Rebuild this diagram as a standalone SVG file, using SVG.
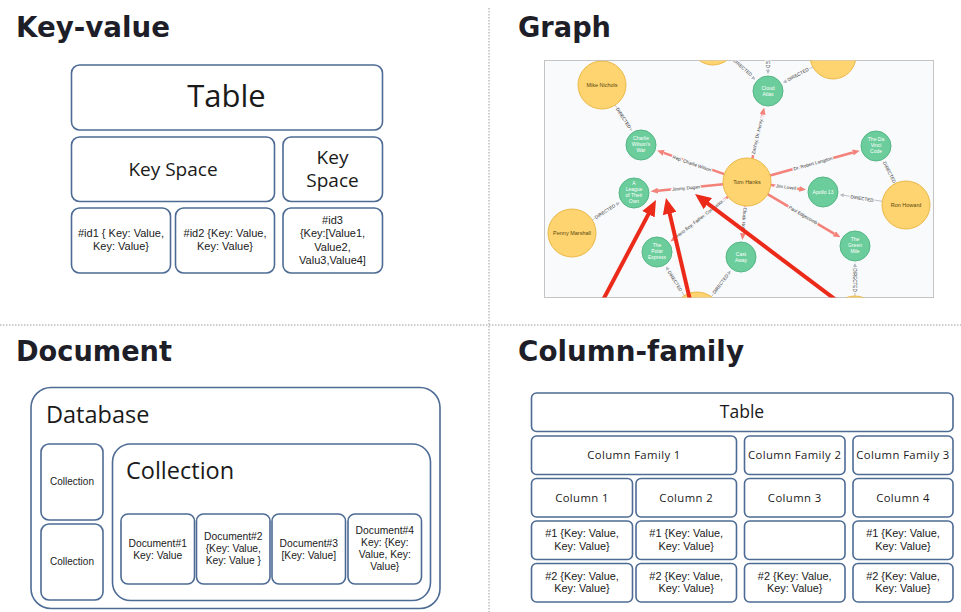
<svg xmlns="http://www.w3.org/2000/svg" width="961" height="612" viewBox="0 0 961 612">
<style>
.h{font-family:"DejaVu Sans",sans-serif;font-weight:bold;font-size:29px;fill:#1e1e28}
.sep{stroke:#9a9a9a;stroke-width:1;stroke-dasharray:1.5 1.5;fill:none}
.box{fill:#fff;stroke:#4d6b94;stroke-width:1.6}
.t{font-family:"Open Sans","Liberation Sans",sans-serif;fill:#1a1a1a;text-anchor:middle}
.s{font-family:"Liberation Sans",Arial,sans-serif;fill:#1a1a1a;text-anchor:middle}
.tl{font-family:"Open Sans","Liberation Sans",sans-serif;fill:#1a1a1a}
.gy{fill:#fdd46f;stroke:#eab84a;stroke-width:1}
.gg{fill:#6bcd9b;stroke:#55b685;stroke-width:1}
.ny{font-family:"Liberation Sans",sans-serif;font-size:5.5px;fill:#5a4710;text-anchor:middle}
.ng{font-family:"Liberation Sans",sans-serif;font-size:5px;fill:#fff;text-anchor:middle}
.es{stroke:#f3827a;stroke-width:2.5;fill:none}
.ed{stroke:#b4b8c0;stroke-width:0.9;fill:none}
.el{font-family:"Liberation Sans",sans-serif;font-size:4.6px;fill:#333;text-anchor:middle;stroke:#f9fafc;stroke-width:2.5;paint-order:stroke}
.er{stroke:#ec2a1a;stroke-width:4;fill:none}
</style>
<defs>
<marker id="ms" markerUnits="userSpaceOnUse" markerWidth="7" markerHeight="6" viewBox="0 0 7 6" refX="0" refY="3" orient="auto"><path d="M0,0 L7,3 L0,6 z" fill="#f3827a"/></marker>
<marker id="md" markerUnits="userSpaceOnUse" markerWidth="4" markerHeight="4" viewBox="0 0 4 4" refX="0" refY="2" orient="auto"><path d="M0,0 L4,2 L0,4 z" fill="#b4b8c0"/></marker>
<marker id="mr" markerUnits="userSpaceOnUse" markerWidth="16" markerHeight="14" viewBox="0 0 16 14" refX="2" refY="7" orient="auto"><path d="M0,0 L16,7 L0,14 z" fill="#ec2a1a"/></marker>
<clipPath id="gclip"><rect x="544.5" y="60.5" width="389" height="237"/></clipPath>
</defs>
<rect width="961" height="612" fill="#fff"/>

<!-- separators -->
<line class="sep" x1="489" y1="8" x2="489" y2="612"/>
<line class="sep" x1="0" y1="325" x2="961" y2="325"/>

<!-- headings -->
<text class="h" x="16" y="37" textLength="154" lengthAdjust="spacingAndGlyphs">Key-value</text>
<text class="h" x="518" y="37" textLength="93" lengthAdjust="spacingAndGlyphs">Graph</text>
<text class="h" x="16" y="361" textLength="156" lengthAdjust="spacingAndGlyphs">Document</text>
<text class="h" x="518" y="361" textLength="226" lengthAdjust="spacingAndGlyphs">Column-family</text>

<!-- Key-value -->
<g id="kv-table"><rect class="box" x="71.5" y="65" width="311" height="65" rx="8"/><text class="t" x="226.5" y="107" font-size="31">Table</text></g>
<g id="kv-keyspace1"><rect class="box" x="71.5" y="137" width="203" height="64.5" rx="8"/><text class="t" x="173" y="175.5" font-size="19">Key Space</text></g>
<g id="kv-keyspace2"><rect class="box" x="283" y="137" width="99.5" height="64.5" rx="8"/><text class="t" x="332.5" y="163.5" font-size="19">Key</text><text class="t" x="332.5" y="187" font-size="19">Space</text></g>
<g id="kv-id1"><rect class="box" x="71.5" y="208" width="99" height="65" rx="8"/><text class="s" x="121" y="237" font-size="11">#id1 { Key: Value,</text><text class="s" x="121" y="250.3" font-size="11">Key: Value}</text></g>
<g id="kv-id2"><rect class="box" x="175.5" y="208" width="99" height="65" rx="8"/><text class="s" x="225" y="237" font-size="11">#id2 {Key: Value,</text><text class="s" x="225" y="250.3" font-size="11">Key: Value}</text></g>
<g id="kv-id3"><rect class="box" x="283" y="208" width="99.5" height="65" rx="8"/><text class="s" x="332.5" y="224" font-size="11">#id3</text><text class="s" x="332.5" y="237.3" font-size="11">{Key:[Value1,</text><text class="s" x="332.5" y="250.6" font-size="11">Value2,</text><text class="s" x="332.5" y="263.9" font-size="11">Valu3,Value4]</text></g>

<!-- Graph -->
<rect x="544.5" y="60.5" width="389" height="237" fill="#f9fafc" stroke="#c4c4c4" stroke-width="1"/>
<g clip-path="url(#gclip)">
<g id="graph-edges">
<line class="ed" x1="615.1" y1="105.1" x2="629.6" y2="127.4" marker-end="url(#md)"/>
<line class="ed" x1="592.2" y1="220" x2="616.4" y2="204.4" marker-end="url(#md)"/>
<line class="ed" x1="882.3" y1="201.3" x2="843.7" y2="195.3" marker-end="url(#md)"/>
<line class="ed" x1="895.1" y1="183.6" x2="885.5" y2="164.7" marker-end="url(#md)"/>
<line class="ed" x1="684.3" y1="295.6" x2="668.1" y2="269.8" marker-end="url(#md)"/>
<line class="ed" x1="711.4" y1="296.8" x2="728.4" y2="273.8" marker-end="url(#md)"/>
<line class="ed" x1="855" y1="296" x2="855" y2="267" marker-end="url(#md)"/>
<line class="ed" x1="730.2" y1="57.3" x2="752.3" y2="77" marker-end="url(#md)"/>
<line class="ed" x1="768" y1="40" x2="768" y2="70" marker-end="url(#md)"/>
<line class="ed" x1="812.7" y1="66.9" x2="786.5" y2="81" marker-end="url(#md)"/>
<text class="el" transform="translate(623.4,118) rotate(57)" dy="1.6">DIRECTED</text>
<text class="el" transform="translate(605,211.5) rotate(-32.8)" dy="1.6">DIRECTED</text>
<text class="el" transform="translate(862,198.5) rotate(8.9)" dy="1.6">DIRECTED</text>
<text class="el" transform="translate(889.4,172.3) rotate(63)" dy="1.6">DIRECTED</text>
<text class="el" transform="translate(675,281) rotate(58)" dy="1.6">DIRECTED</text>
<text class="el" transform="translate(720.5,284) rotate(-53.3)" dy="1.6">DIRECTED</text>
<text class="el" transform="translate(855,280) rotate(90)" dy="1.6">DIRECTED</text>
<text class="el" transform="translate(742.7,67.5) rotate(41.7)" dy="1.6">DIRECTED</text>
<text class="el" transform="translate(768,56) rotate(90)" dy="1.6">DIRECTED</text>
<text class="el" transform="translate(798,74.5) rotate(-28.3)" dy="1.6">DIRECTED</text>

<line class="es" x1="724.3" y1="174.1" x2="663.7" y2="152.9" marker-end="url(#ms)"/>
<line class="es" x1="752.4" y1="158.6" x2="762.6" y2="114.4" marker-end="url(#ms)"/>
<line class="es" x1="770.1" y1="175.5" x2="852.9" y2="152.5" marker-end="url(#ms)"/>
<line class="es" x1="723.1" y1="184.3" x2="657.9" y2="190.7" marker-end="url(#ms)"/>
<line class="es" x1="770.8" y1="185.1" x2="799.2" y2="188.9" marker-end="url(#ms)"/>
<line class="es" x1="767.6" y1="194.2" x2="834.4" y2="233.8" marker-end="url(#ms)"/>
<line class="es" x1="728.1" y1="196.7" x2="675.9" y2="237.3" marker-end="url(#ms)"/>
<line class="es" x1="745.1" y1="205.9" x2="742.9" y2="233.1" marker-end="url(#ms)"/>
<text class="el" transform="translate(692,163.5) rotate(19.2)" dy="1.6">Rep. Charlie Wilson</text>
<text class="el" transform="translate(757.5,135) rotate(-76.9)" dy="1.6">Zachry, Dr. Henry...</text>
<text class="el" transform="translate(813,163.5) rotate(-15.6)" dy="1.6">Dr. Robert Langdon</text>
<text class="el" transform="translate(686,188) rotate(-5.6)" dy="1.6">Jimmy Dugan</text>
<text class="el" transform="translate(786,187) rotate(7.5)" dy="1.6">Jim Lovell</text>
<text class="el" transform="translate(803,215) rotate(30.6)" dy="1.6">Paul Edgecomb</text>
<text class="el" transform="translate(701,217.5) rotate(-37.9)" dy="1.6">Hero Boy, Father, Conductor...</text>
<text class="el" transform="translate(744,220) rotate(94.6)" dy="1.6">Chuck Nol...</text>
</g>

<g id="n-top1"><circle class="gy" cx="713" cy="42" r="23"/></g>
<g id="n-top2"><circle class="gy" cx="833" cy="56" r="23"/></g>
<g id="n-bottom1"><circle class="gy" cx="697" cy="316" r="24"/></g>
<g id="n-bottom2"><circle class="gy" cx="855" cy="320" r="24"/></g>
<g id="n-mike"><circle class="gy" cx="602" cy="85" r="24"/><text class="ny" x="602" y="87">Mike Nichols</text></g>
<g id="n-tom"><circle class="gy" cx="747" cy="182" r="24"/><text class="ny" x="747" y="184">Tom Hanks</text></g>
<g id="n-penny"><circle class="gy" cx="572" cy="233" r="24"/><text class="ny" x="572" y="235">Penny Marshall</text></g>
<g id="n-ron"><circle class="gy" cx="906" cy="205" r="24"/><text class="ny" x="906" y="207">Ron Howard</text></g>
<g id="n-charlie"><circle class="gg" cx="641" cy="145" r="15"/><text class="ng" x="641" y="139.5">Charlie</text><text class="ng" x="641" y="145.5">Wilson's</text><text class="ng" x="641" y="151.5">War</text></g>
<g id="n-cloud"><circle class="gg" cx="768" cy="91" r="15"/><text class="ng" x="768" y="90">Cloud</text><text class="ng" x="768" y="96">Atlas</text></g>
<g id="n-davinci"><circle class="gg" cx="876" cy="146" r="15"/><text class="ng" x="876" y="140.5">The Da</text><text class="ng" x="876" y="146.5">Vinci</text><text class="ng" x="876" y="152.5">Code</text></g>
<g id="n-league"><circle class="gg" cx="634" cy="193" r="15"/><text class="ng" x="634" y="184.5">A</text><text class="ng" x="634" y="190.5">League</text><text class="ng" x="634" y="196.5">of Their</text><text class="ng" x="634" y="202.5">Own</text></g>
<g id="n-apollo"><circle class="gg" cx="823" cy="192" r="15"/><text class="ng" x="823" y="194">Apollo 13</text></g>
<g id="n-green"><circle class="gg" cx="855" cy="246" r="15"/><text class="ng" x="855" y="240.5">The</text><text class="ng" x="855" y="246.5">Green</text><text class="ng" x="855" y="252.5">Mile</text></g>
<g id="n-polar"><circle class="gg" cx="657" cy="252" r="15"/><text class="ng" x="657" y="246.5">The</text><text class="ng" x="657" y="252.5">Polar</text><text class="ng" x="657" y="258.5">Express</text></g>
<g id="n-cast"><circle class="gg" cx="741" cy="257" r="15"/><text class="ng" x="741" y="256">Cast</text><text class="ng" x="741" y="262">Away</text></g>

<g id="red-arrows">
<line class="er" x1="603" y1="300" x2="649.4" y2="212.4" marker-end="url(#mr)"/>
<line class="er" x1="690" y1="300" x2="669.2" y2="211.6" marker-end="url(#mr)"/>
<line class="er" x1="836" y1="300" x2="706.2" y2="202.4" marker-end="url(#mr)"/>
</g>
</g>

<!-- Document -->
<g id="doc-database"><rect class="box" x="31" y="387.5" width="409" height="221" rx="20"/><text class="tl" x="46" y="423" font-size="23.5">Database</text></g>
<g id="doc-coll-a"><rect class="box" x="41" y="444" width="62" height="76" rx="8"/><text class="s" x="72" y="485" font-size="10">Collection</text></g>
<g id="doc-coll-b"><rect class="box" x="41" y="524" width="62" height="76" rx="8"/><text class="s" x="72" y="565" font-size="10">Collection</text></g>
<g id="doc-coll-main"><rect class="box" x="112.5" y="444" width="318" height="156.5" rx="18"/><text class="tl" x="126" y="478.5" font-size="23.5">Collection</text></g>
<g id="doc-1"><rect class="box" x="121" y="514" width="73.5" height="70" rx="7"/><text class="s" x="157.7" y="546.5" font-size="10.3">Document#1</text><text class="s" x="157.7" y="558.5" font-size="10.3">Key: Value</text></g>
<g id="doc-2"><rect class="box" x="196.5" y="514" width="73.5" height="70" rx="7"/><text class="s" x="233.3" y="540" font-size="10.3">Document#2</text><text class="s" x="233.3" y="552" font-size="10.3">{Key: Value,</text><text class="s" x="233.3" y="564" font-size="10.3">Key: Value }</text></g>
<g id="doc-3"><rect class="box" x="272" y="514" width="73.5" height="70" rx="7"/><text class="s" x="308.8" y="546.5" font-size="10.3">Document#3</text><text class="s" x="308.8" y="558.5" font-size="10.3">[Key: Value]</text></g>
<g id="doc-4"><rect class="box" x="348" y="514" width="73.5" height="70" rx="7"/><text class="s" x="384.8" y="534" font-size="10.3">Document#4</text><text class="s" x="384.8" y="546" font-size="10.3">Key: {Key:</text><text class="s" x="384.8" y="558" font-size="10.3">Value, Key:</text><text class="s" x="384.8" y="570" font-size="10.3">Value}</text></g>

<!-- Column-family -->
<g id="cf-table"><rect class="box" x="531.5" y="393" width="421.5" height="38.5" rx="5"/><text class="t" x="742" y="417.5" font-size="17.5">Table</text></g>
<g id="cf-fam1"><rect class="box" x="531.5" y="436" width="205" height="38.5" rx="5"/><text class="t" x="634" y="459" font-size="11.3" letter-spacing="0.4">Column Family 1</text></g>
<g id="cf-fam2"><rect class="box" x="744.5" y="436" width="100.5" height="38.5" rx="5"/><text class="t" x="794.7" y="459" font-size="11.3" letter-spacing="0.4">Column Family 2</text></g>
<g id="cf-fam3"><rect class="box" x="853" y="436" width="100" height="38.5" rx="5"/><text class="t" x="903" y="459" font-size="11.3" letter-spacing="0.4">Column Family 3</text></g>
<g id="cf-col1"><rect class="box" x="531.5" y="478.5" width="101" height="38.5" rx="5"/><text class="t" x="582" y="501.5" font-size="11.3" letter-spacing="0.4">Column 1</text></g>
<g id="cf-col2"><rect class="box" x="636" y="478.5" width="100.5" height="38.5" rx="5"/><text class="t" x="686.2" y="501.5" font-size="11.3" letter-spacing="0.4">Column 2</text></g>
<g id="cf-col3"><rect class="box" x="744.5" y="478.5" width="100.5" height="38.5" rx="5"/><text class="t" x="794.7" y="501.5" font-size="11.3" letter-spacing="0.4">Column 3</text></g>
<g id="cf-col4"><rect class="box" x="853" y="478.5" width="100" height="38.5" rx="5"/><text class="t" x="903" y="501.5" font-size="11.3" letter-spacing="0.4">Column 4</text></g>
<g id="cf-r1c1"><rect class="box" x="531.5" y="521" width="101" height="38.5" rx="5"/><text class="s" x="582" y="537" font-size="10.9">#1 {Key: Value,</text><text class="s" x="582" y="549.5" font-size="10.9">Key: Value}</text></g>
<g id="cf-r1c2"><rect class="box" x="636" y="521" width="100.5" height="38.5" rx="5"/><text class="s" x="686.2" y="537" font-size="10.9">#1 {Key: Value,</text><text class="s" x="686.2" y="549.5" font-size="10.9">Key: Value}</text></g>
<g id="cf-r1c3"><rect class="box" x="744.5" y="521" width="100.5" height="38.5" rx="5"/></g>
<g id="cf-r1c4"><rect class="box" x="853" y="521" width="100" height="38.5" rx="5"/><text class="s" x="903" y="537" font-size="10.9">#1 {Key: Value,</text><text class="s" x="903" y="549.5" font-size="10.9">Key: Value}</text></g>
<g id="cf-r2c1"><rect class="box" x="531.5" y="563.5" width="101" height="38.5" rx="5"/><text class="s" x="582" y="579.5" font-size="10.9">#2 {Key: Value,</text><text class="s" x="582" y="592" font-size="10.9">Key: Value}</text></g>
<g id="cf-r2c2"><rect class="box" x="636" y="563.5" width="100.5" height="38.5" rx="5"/><text class="s" x="686.2" y="579.5" font-size="10.9">#2 {Key: Value,</text><text class="s" x="686.2" y="592" font-size="10.9">Key: Value}</text></g>
<g id="cf-r2c3"><rect class="box" x="744.5" y="563.5" width="100.5" height="38.5" rx="5"/><text class="s" x="794.7" y="579.5" font-size="10.9">#2 {Key: Value,</text><text class="s" x="794.7" y="592" font-size="10.9">Key: Value}</text></g>
<g id="cf-r2c4"><rect class="box" x="853" y="563.5" width="100" height="38.5" rx="5"/><text class="s" x="903" y="579.5" font-size="10.9">#2 {Key: Value,</text><text class="s" x="903" y="592" font-size="10.9">Key: Value}</text></g>
</svg>
